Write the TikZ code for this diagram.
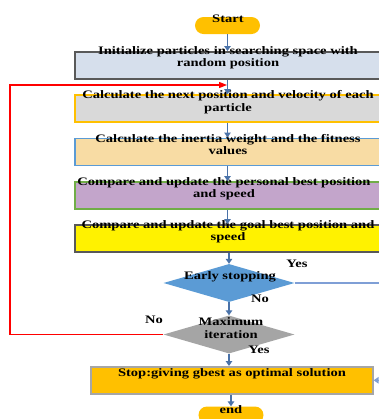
\documentclass[tikz,border=0pt]{standalone}
\usepackage{fontspec}
\setmainfont[FakeStretch=1.27]{Liberation Serif}
\usetikzlibrary{shapes.geometric,arrows.meta}
\definecolor{flowblue}{HTML}{4A72A8}
\definecolor{linkblue}{HTML}{7F9FD6}
\definecolor{amber}{HTML}{FFC000}
\definecolor{darkedge}{HTML}{595959}
\definecolor{paleblue}{HTML}{D6DFEC}
\definecolor{palegray}{HTML}{D9D9D9}
\definecolor{skyedge}{HTML}{5B9BD5}
\definecolor{wheat}{HTML}{F8DCA4}
\definecolor{leafedge}{HTML}{70AD47}
\definecolor{lilac}{HTML}{C3A5CB}
\definecolor{diamondblue}{HTML}{5B9BD5}
\definecolor{diamondgray}{HTML}{A5A5A5}
\definecolor{softedge}{HTML}{A6A6A6}
\begin{document}
\begin{tikzpicture}[x=1bp,y=-1bp,
  stepbox/.style={rectangle, line width=1.6bp, minimum width=311bp, minimum height=27bp, inner sep=0pt, anchor=north west},
  caption/.style={font=\bfseries\fontsize{11.5}{12.5}\selectfont, align=center, inner sep=0pt},
  terminal/.style={rectangle, rounded corners=8.5bp, fill=amber, minimum width=65bp, minimum height=17bp, inner sep=0pt},
  decision/.style={diamond, minimum width=131bp, minimum height=38bp, inner sep=0pt},
  flow/.style={draw=flowblue, line width=1.3bp, -{Triangle[length=5bp,width=6.5bp]}},
  tag/.style={font=\bfseries\fontsize{11.5}{12.5}\selectfont, inner sep=0pt}]
\useasboundingbox (0,0) rectangle (379,419);
\clip (0,0) rectangle (379,419);

% terminals
\node[terminal] (start) at (227.5,25.5) {};
\node[caption] at (228,19) {Start};
\node[terminal] (stop) at (231,415) {};
\node[caption] at (231,409.5) {end};

% process boxes
\node[stepbox, draw=darkedge, fill=paleblue] (b1) at (74,51) {};
\node[caption] at (228,58) {Initialize particles in searching space with\\random position};
\node[stepbox, draw=amber, fill=palegray] (b2) at (74,94) {};
\node[caption] at (228,102) {Calculate the next position and velocity of each\\particle};
\node[stepbox, draw=skyedge, fill=wheat] (b3) at (74,137.5) {};
\node[caption] at (228,144.5) {Calculate the inertia weight and the fitness\\values};
\node[stepbox, draw=leafedge, fill=lilac] (b4) at (74,181) {};
\node[caption] at (224,188.5) {Compare and update the personal best position\\and speed};
\node[stepbox, draw=darkedge, fill=yellow] (b5) at (74,224) {};
\node[caption] at (228,232) {Compare and update the goal best position and\\speed};

% decisions
\node[decision, fill=diamondblue] (d1) at (229,283) {};
\node[caption] at (230,277) {Early stopping};
\node[decision, fill=diamondgray] (d2) at (229,334.5) {};
\node[caption] at (231,328) {Maximum\\iteration};

% final box
\node[stepbox, draw=softedge, fill=amber, minimum width=282bp] (b6) at (90,366) {};
\node[caption] at (232,374) {Stop:giving gbest as optimal solution};

% main flow
\draw[flow] (start) -- (b1.north -| start);
\draw[flow] (b1.south -| start) -- (b2.north -| start);
\draw[flow] (b2.south -| start) -- (b3.north -| start);
\draw[flow] (b3.south -| start) -- (b4.north -| start);
\draw[flow] (b4.south -| start) -- (b5.north -| start);
\draw[flow] (b5.south -| d1) -- (d1.north);
\draw[flow] (d1) -- (d2);
\draw[flow] (d2.south) -- (b6.north -| d2);
\draw[flow] (b6.south -| stop) -- (stop);

% loop back when the iteration limit is not reached
\coordinate (loopcorner) at (10,85);
\coordinate (loopin) at (227,85);
\draw[red, line width=1.2bp, -{Triangle[length=8bp,width=6bp]}] (d2.west) -| (loopcorner) -- (loopin);

% early stop jumps to the final box
\coordinate (sidelane) at (392,283);
\draw[linkblue, line width=1.3bp, -{Triangle[length=5bp,width=6.5bp]}] (d1.east) -- (sidelane) |- (b6.east);

% branch labels
\node[tag] at (297,264) {Yes};
\node[tag] at (260,299) {No};
\node[tag] at (154,320) {No};
\node[tag] at (259,350) {Yes};
\end{tikzpicture}
\end{document}
